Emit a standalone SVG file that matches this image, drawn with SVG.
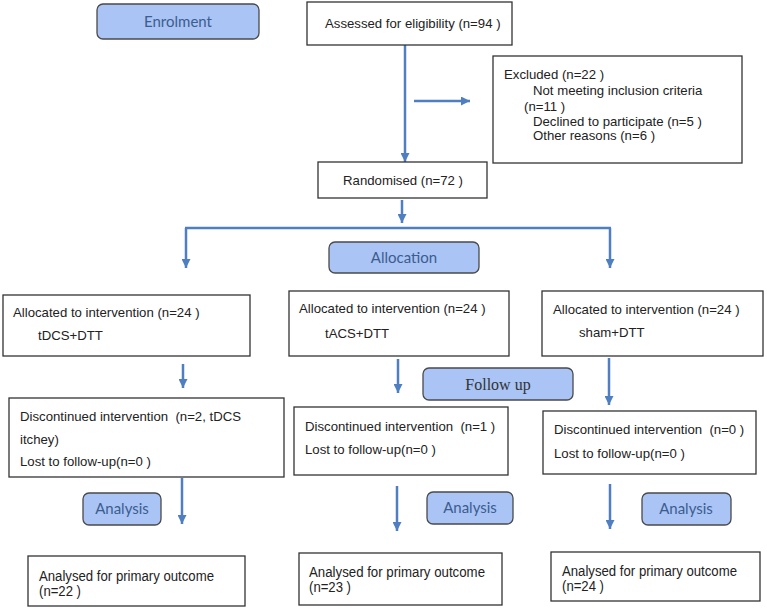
<svg xmlns="http://www.w3.org/2000/svg" width="767" height="609" viewBox="0 0 767 609">
<style>
.box{fill:#fff;stroke:#333;stroke-width:1.3}
.lab{fill:#a9c4f5;stroke:#4a4a4a;stroke-width:1.3}
.t{font-family:"Liberation Sans",Arial,sans-serif;font-size:13.2px;fill:#222;white-space:pre}
.n{font-family:"Liberation Sans",Arial,sans-serif;font-size:14px;fill:#222;white-space:pre}
.lt{font-family:Lato,"Open Sans",sans-serif;font-size:15px;fill:#3d5c8f;text-anchor:middle}
.ft{font-family:"Liberation Serif","Times New Roman",serif;font-size:16px;fill:#333;text-anchor:middle}
.c{stroke:#4f7fc0;stroke-width:2.5;fill:none}
.a{marker-end:url(#ah)}
</style>
<defs>
<marker id="ah" viewBox="0 0 10 10" refX="10" refY="5" markerWidth="9" markerHeight="9" markerUnits="userSpaceOnUse" orient="auto">
<path d="M0,0 L10,5 L0,10 z" fill="#4f7fc0"/>
</marker>
</defs>
<rect width="767" height="609" fill="#fff"/>
<g id="connectors">
<line class="c a" x1="405" y1="45" x2="405" y2="162"/>
<line class="c a" x1="414" y1="101" x2="470" y2="101"/>
<line class="c a" x1="402" y1="200" x2="402" y2="223"/>
<line class="c" x1="185" y1="228" x2="611" y2="228"/>
<line class="c a" x1="186" y1="228" x2="186" y2="268"/>
<line class="c a" x1="610" y1="228" x2="610" y2="268"/>
<line class="c a" x1="183" y1="364" x2="183" y2="388"/>
<line class="c a" x1="398" y1="359" x2="398" y2="393"/>
<line class="c a" x1="609" y1="358" x2="609" y2="405"/>
<line class="c a" x1="182" y1="478" x2="182" y2="524"/>
<line class="c a" x1="397" y1="486" x2="397" y2="531"/>
<line class="c a" x1="610" y1="484" x2="610" y2="529"/>
</g>
<g id="enrolment"><rect class="lab" x="97" y="4" width="162" height="35" rx="6"/><text class="lt" x="178" y="27">Enrolment</text></g>
<g id="assessed"><rect class="box" x="307" y="2" width="205" height="43"/><text class="t" x="325" y="28">Assessed for eligibility (n=94 )</text></g>
<g id="excluded"><rect class="box" x="493" y="56" width="249" height="107"/>
<text class="t" x="504" y="79">Excluded (n=22 )</text>
<text class="t" x="533" y="95">Not meeting inclusion criteria</text>
<text class="t" x="524" y="111">(n=11 )</text>
<text class="t" x="533" y="126">Declined to participate (n=5 )</text>
<text class="t" x="533" y="140">Other reasons (n=6 )</text></g>
<g id="randomised"><rect class="box" x="318" y="162" width="169" height="36"/><text class="t" x="403" y="185" text-anchor="middle">Randomised (n=72 )</text></g>
<g id="allocation"><rect class="lab" x="329" y="242" width="150" height="31" rx="6"/><text class="lt" x="404" y="263">Allocation</text></g>
<g id="alloc1"><rect class="box" x="3" y="295" width="247" height="61"/><text class="t" x="13" y="317">Allocated to intervention (n=24 )</text><text class="t" x="38" y="340">tDCS+DTT</text></g>
<g id="alloc2"><rect class="box" x="289" y="291" width="220" height="65"/><text class="t" x="299" y="313">Allocated to intervention (n=24 )</text><text class="t" x="325" y="338">tACS+DTT</text></g>
<g id="alloc3"><rect class="box" x="542" y="291" width="221" height="65"/><text class="t" x="553" y="314">Allocated to intervention (n=24 )</text><text class="t" x="579" y="337">sham+DTT</text></g>
<g id="followup"><rect class="lab" x="423" y="368" width="150" height="32" rx="6"/><text class="ft" x="498" y="390">Follow up</text></g>
<g id="disc1"><rect class="box" x="9" y="398" width="275" height="79"/><text class="t" x="20" y="421">Discontinued intervention  (n=2, tDCS</text><text class="t" x="20" y="444">itchey)</text><text class="t" x="20" y="466">Lost to follow-up(n=0 )</text></g>
<g id="disc2"><rect class="box" x="294" y="407" width="214" height="68"/><text class="t" x="305" y="431">Discontinued intervention  (n=1 )</text><text class="t" x="305" y="454">Lost to follow-up(n=0 )</text></g>
<g id="disc3"><rect class="box" x="543" y="411" width="213" height="63"/><text class="t" x="554" y="434">Discontinued intervention  (n=0 )</text><text class="t" x="554" y="458">Lost to follow-up(n=0 )</text></g>
<g id="analysis1"><rect class="lab" x="83" y="493" width="78" height="32" rx="6"/><text class="lt" x="122" y="514">Analysis</text></g>
<g id="analysis2"><rect class="lab" x="427" y="492" width="86" height="32" rx="6"/><text class="lt" x="470" y="513">Analysis</text></g>
<g id="analysis3"><rect class="lab" x="642" y="493" width="89" height="32" rx="6"/><text class="lt" x="686" y="514">Analysis</text></g>
<g id="analysed1"><rect class="box" x="28" y="556" width="217" height="50"/><text class="n" x="39" y="581" textLength="175" lengthAdjust="spacingAndGlyphs">Analysed for primary outcome</text><text class="n" x="39" y="596" textLength="42" lengthAdjust="spacingAndGlyphs">(n=22 )</text></g>
<g id="analysed2"><rect class="box" x="299" y="553" width="203" height="52"/><text class="n" x="309" y="577" textLength="176" lengthAdjust="spacingAndGlyphs">Analysed for primary outcome</text><text class="n" x="309" y="592" textLength="42" lengthAdjust="spacingAndGlyphs">(n=23 )</text></g>
<g id="analysed3"><rect class="box" x="551" y="552" width="209" height="49"/><text class="n" x="562" y="576" textLength="175" lengthAdjust="spacingAndGlyphs">Analysed for primary outcome</text><text class="n" x="562" y="591" textLength="42" lengthAdjust="spacingAndGlyphs">(n=24 )</text></g>
</svg>
